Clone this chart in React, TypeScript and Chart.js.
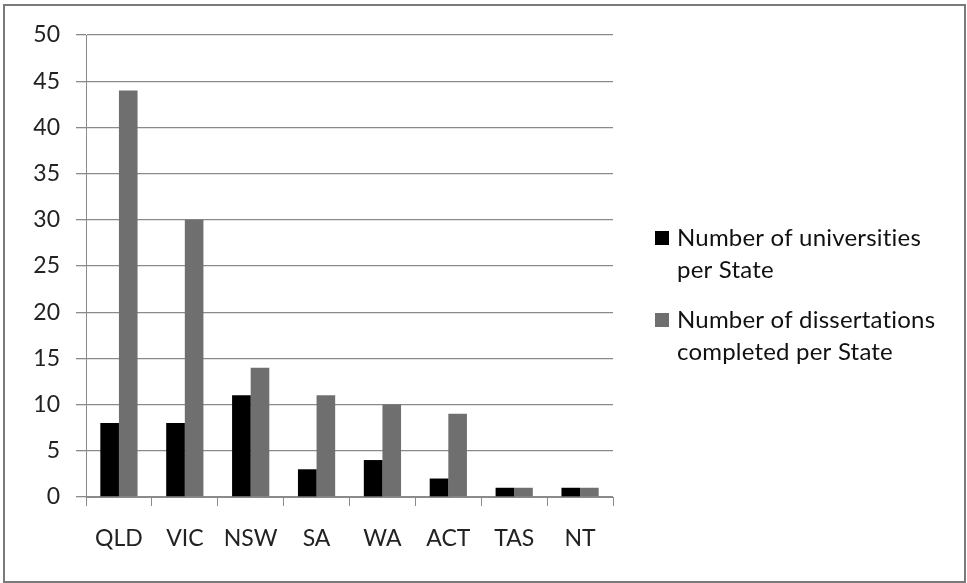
import React, { useEffect, useRef } from "react";
import { Chart, registerables } from "chart.js";

Chart.register(...registerables);

const categories = ["QLD", "VIC", "NSW", "SA", "WA", "ACT", "TAS", "NT"];
const universities = [8, 8, 11, 3, 4, 2, 1, 1];
const dissertations = [44, 30, 14, 11, 10, 9, 1, 1];
const seriesLabels = [
  ["Number of universities", "per State"],
  ["Number of dissertations", "completed per State"],
];
const seriesColors = ["#000000", "#6f6f6f"];
const yMax = 50;
const yStep = 5;

const FONT = "Lato, 'Open Sans', sans-serif";

const legendPlugin = {
  id: "sideLegend",
  afterDraw(chart: any) {
    const ctx = chart.ctx;
    ctx.save();
    ctx.font = `24px ${FONT}`;
    if ("letterSpacing" in ctx) (ctx as any).letterSpacing = "0.2px";
    ctx.textBaseline = "middle";
    ctx.textAlign = "left";
    const starts = [238, 320];
    seriesLabels.forEach((lines, i) => {
      const y0 = starts[i];
      ctx.fillStyle = seriesColors[i];
      ctx.fillRect(655, y0 - 7, 14, 14);
      ctx.fillStyle = "#111";
      lines.forEach((t, j) => ctx.fillText(t, 677, y0 + j * 32));
    });
    ctx.restore();
  },
};

export default function App() {
  const ref = useRef<HTMLCanvasElement>(null);
  useEffect(() => {
    const chart = new Chart(ref.current!, {
      type: "bar",
      data: {
        labels: categories,
        datasets: [
          { label: seriesLabels[0].join(" "), data: universities, backgroundColor: seriesColors[0] },
          { label: seriesLabels[1].join(" "), data: dissertations, backgroundColor: seriesColors[1] },
        ],
      },
      options: {
        animation: false,
        responsive: false,
        maintainAspectRatio: false,
        layout: { padding: { top: 35, right: 354, left: 0, bottom: 0 } },
        datasets: { bar: { categoryPercentage: 0.565, barPercentage: 1 } },
        plugins: { legend: { display: false }, tooltip: { enabled: false } },
        scales: {
          x: {
            grid: { drawOnChartArea: false, drawTicks: true, tickLength: 9, color: "#8a8a8a", offset: true },
            border: { color: "#8a8a8a", width: 1 },
            ticks: { color: "#222", font: { family: FONT, size: 23 }, padding: 19 },
            afterFit: (s: any) => { s.height = 86; },
          },
          y: {
            min: 0,
            max: yMax,
            grid: { color: "#8a8a8a", lineWidth: 1.3, tickLength: 10 },
            border: { color: "#8a8a8a", width: 1 },
            ticks: { stepSize: yStep, color: "#222", font: { family: FONT, size: 23 }, padding: 16 },
            afterFit: (s: any) => { s.width = 86; },
          },
        },
      },
      plugins: [legendPlugin],
    });
    return () => chart.destroy();
  }, []);
  return (
    <div style={{ position: "absolute", left: 0, top: 0, width: 967, height: 583, background: "#fff" }}>
      <canvas ref={ref} width={967} height={583} style={{ position: "absolute", left: 0, top: 0 }} />
      <div
        style={{
          position: "absolute",
          left: 3,
          top: 4,
          width: 963,
          height: 579,
          border: "2px solid #7a7a7a",
          boxSizing: "border-box",
          pointerEvents: "none",
        }}
      />
    </div>
  );
}
